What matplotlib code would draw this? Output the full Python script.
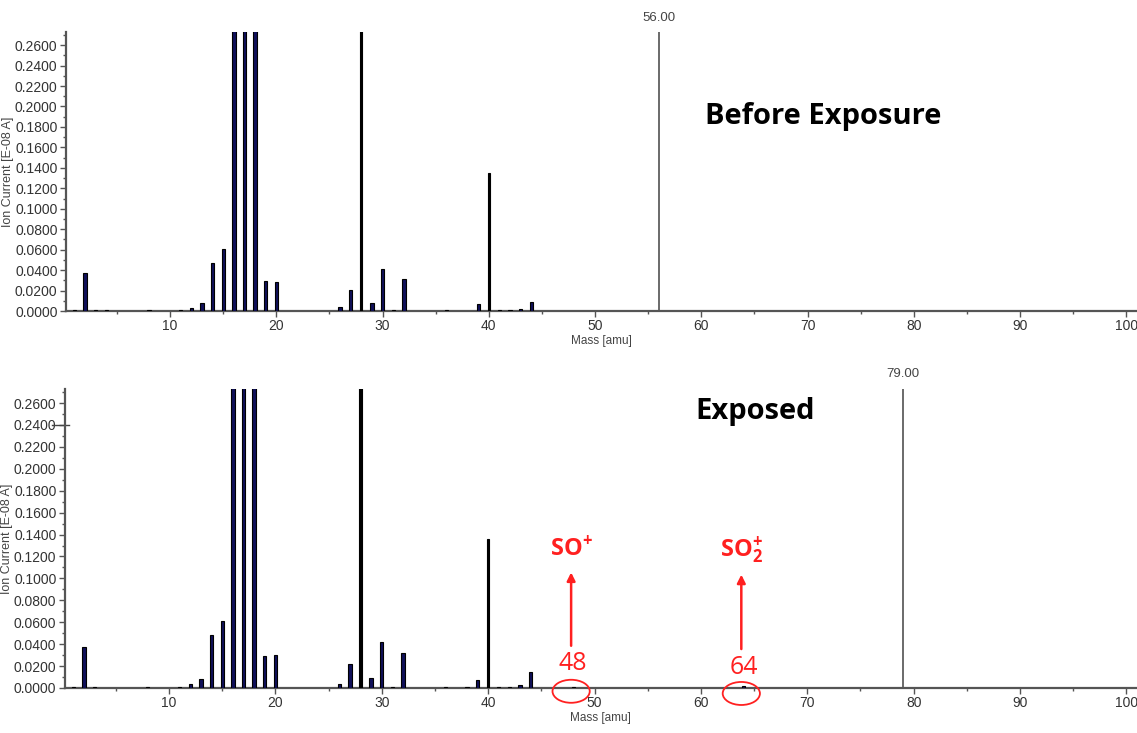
import matplotlib.pyplot as plt
from matplotlib.patches import Ellipse

# masses (amu) and ion currents (E-08 A)
mass_before = [1, 2, 3, 4, 8, 11, 12, 13, 14, 15, 16, 17, 18, 19, 20,
               26, 27, 29, 30, 31, 32, 36, 39, 41, 42, 43, 44]
current_before = [0.001, 0.037, 0.001, 0.001, 0.001, 0.001, 0.003, 0.008, 0.047, 0.061,
                  0.30, 0.30, 0.30, 0.029, 0.028,
                  0.004, 0.021, 0.008, 0.041, 0.001, 0.031, 0.001, 0.007, 0.001, 0.001, 0.002, 0.009]
line_mass_before = [28, 40]
line_current_before = [0.30, 0.135]
cursor_before = 56.00

mass_exposed = [1, 2, 3, 8, 11, 12, 13, 14, 15, 16, 17, 18, 19, 20,
                26, 27, 29, 30, 31, 32, 36, 38, 39, 41, 42, 43, 44, 48, 64]
current_exposed = [0.001, 0.037, 0.001, 0.001, 0.001, 0.004, 0.008, 0.048, 0.061,
                   0.30, 0.30, 0.30, 0.029, 0.030,
                   0.004, 0.022, 0.009, 0.042, 0.001, 0.032, 0.001, 0.001, 0.007,
                   0.001, 0.001, 0.003, 0.015, 0.001, 0.002]
line_mass_exposed = [28, 40]
line_current_exposed = [0.30, 0.136]
cursor_exposed = 79.00

yticks = [i * 0.02 for i in range(14)]

plt.rcParams['mathtext.fontset'] = 'custom'
plt.rcParams['mathtext.rm'] = 'Open Sans'
plt.rcParams['mathtext.bf'] = 'Open Sans:bold'

tick_font = ['Liberation Sans', 'DejaVu Sans']
navy = '#10105a'

fig = plt.figure(figsize=(11.37, 7.33), dpi=100)
ax1 = fig.add_axes([0.058, 0.5757, 0.942, 0.3806])
ax2 = fig.add_axes([0.057, 0.0614, 0.943, 0.4079])


def draw_panel(ax, mass, cur, lmass, lcur, cursor):
    ax.bar(mass, cur, width=0.32, color=navy, edgecolor='black', linewidth=0.8, zorder=3)
    ax.bar(lmass, lcur, width=0.2, color='black', edgecolor='black', linewidth=0.8, zorder=3)
    ax.axvline(cursor, color='#6a6a6a', linewidth=1.4, zorder=2)
    ax.text(cursor, 1.03, '%.2f' % cursor, transform=ax.get_xaxis_transform(),
            ha='center', va='bottom', fontsize=9.5, color='#444444', family=tick_font)
    ax.set_xlim(0.2, 101.0)
    ax.set_ylim(0, 0.2728)
    ax.set_xticks([10, 20, 30, 40, 50, 60, 70, 80, 90, 100])
    ax.set_xticks([5, 15, 25, 35, 45, 55, 65, 75, 85, 95], minor=True)
    ax.set_yticks(yticks)
    ax.set_yticklabels(['%.4f' % v for v in yticks])
    ax.set_yticks([0.01 + v for v in yticks], minor=True)
    for s in ['top', 'right']:
        ax.spines[s].set_visible(False)
    for s in ['left', 'bottom']:
        ax.spines[s].set_color('#555555')
        ax.spines[s].set_linewidth(1.6)
    ax.tick_params(axis='both', which='major', length=4, width=1, color='#555555',
                   labelsize=10, labelcolor='#333333', pad=2)
    ax.tick_params(axis='both', which='minor', length=2.5, width=1, color='#555555')
    for lab in ax.get_xticklabels() + ax.get_yticklabels():
        lab.set_family(tick_font)
    ax.set_xlabel('Mass [amu]', fontsize=8.5, color='#444444', family=tick_font, labelpad=1)
    ax.set_ylabel('Ion Current [E-08 A]', fontsize=9, color='#444444', family=tick_font)
    ax.yaxis.set_label_coords(-0.0485, 0.5)


draw_panel(ax1, mass_before, current_before, line_mass_before, line_current_before, cursor_before)
draw_panel(ax2, mass_exposed, current_exposed, line_mass_exposed, line_current_exposed, cursor_exposed)

ax1.text(60.3, 0.19, 'Before Exposure', fontsize=21, fontweight='bold',
         family=['Open Sans', 'DejaVu Sans'], ha='left', va='center')
ax2.text(59.5, 0.252, 'Exposed', fontsize=21, fontweight='bold',
         family=['Open Sans', 'DejaVu Sans'], ha='left', va='center')

# odd cursor mark on the 0.2400 tick in the lower panel
ax2.plot([-0.012, 0.004], [0.24, 0.24], transform=ax2.get_yaxis_transform(),
         color='#444444', linewidth=1, clip_on=False)

# SO+ / SO2+ annotations
red = '#ff2020'
for x0, lab, num, ynum, ytxt, ya0, ya1, ey in [
        (47.8, r'$\mathbf{SO^{+}}$', '48', 0.022, 0.128, 0.036, 0.108, -0.003),
        (63.8, r'$\mathbf{SO_{2}^{+}}$', '64', 0.019, 0.126, 0.033, 0.106, -0.005)]:
    ax2.text(x0, ytxt, lab, color=red, fontsize=17,
             ha='center', va='center')
    ax2.annotate('', xy=(x0, ya1), xytext=(x0, ya0),
                 arrowprops=dict(arrowstyle='-|>', color=red, lw=1.8, mutation_scale=12))
    ax2.text(x0 + 0.2, ynum, num, color=red, fontsize=18,
             family=['Open Sans', 'DejaVu Sans'], ha='center', va='center')
    ax2.add_patch(Ellipse((x0, ey), 3.5, 0.021, fill=False, edgecolor=red,
                          linewidth=1.3, clip_on=False, zorder=5))

plt.savefig('out.png', dpi=100)
